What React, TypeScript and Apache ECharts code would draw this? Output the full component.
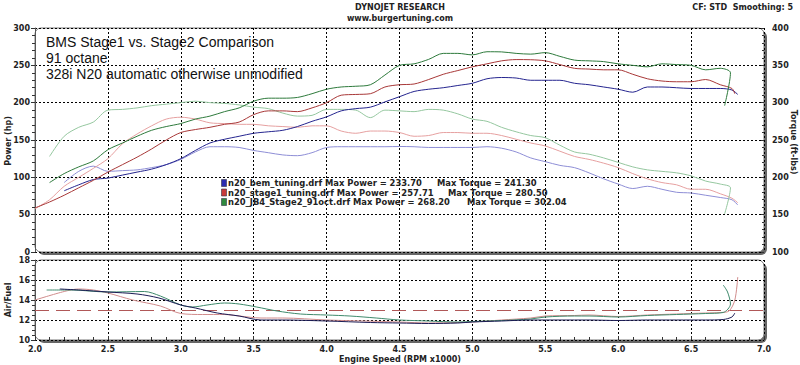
import React, { useEffect, useRef } from "react";
import * as echarts from "echarts";

type P = [number, number][];

// Power (hp), left axis
const powerBem: P = [[2.2,82],[2.3,90],[2.4,97],[2.5,99],[2.6,103],[2.7,107],[2.8,111],[2.9,117],[3.0,125],[3.1,136],[3.2,146],[3.3,151],[3.4,155],[3.5,159],[3.6,161],[3.7,163],[3.8,168],[3.9,175],[4.0,181],[4.1,189],[4.2,192],[4.3,194],[4.4,201],[4.5,208],[4.6,215],[4.7,218],[4.8,220],[4.9,223],[5.0,226],[5.1,232],[5.2,233.7],[5.3,233],[5.4,230],[5.5,230],[5.6,230],[5.7,226],[5.8,224],[5.9,221],[6.0,218],[6.1,214],[6.2,221],[6.3,221],[6.4,220],[6.5,219],[6.6,219],[6.7,219],[6.78,217],[6.82,211]];
const powerStage1: P = [[2.0,59],[2.1,67],[2.2,76],[2.3,86],[2.4,96],[2.5,107],[2.6,117],[2.7,127],[2.8,138],[2.9,150],[3.0,160],[3.1,164],[3.2,167],[3.3,171],[3.4,174],[3.5,184],[3.6,189],[3.7,189],[3.8,188],[3.9,193],[4.0,200],[4.1,210],[4.2,211],[4.3,212],[4.4,221],[4.5,224],[4.6,225],[4.7,231],[4.8,238],[4.9,243],[5.0,248],[5.1,252],[5.2,256],[5.3,257.7],[5.4,257.5],[5.5,256],[5.6,251],[5.7,246],[5.8,245],[5.9,244],[6.0,244],[6.1,238],[6.2,232],[6.3,229],[6.4,228],[6.5,228],[6.6,231],[6.7,224],[6.78,219],[6.8,212]];
const powerStage2: P = [[2.1,93],[2.2,105],[2.3,114],[2.4,122],[2.5,137],[2.6,146],[2.7,155],[2.8,163],[2.9,168],[3.0,172],[3.1,178],[3.2,182],[3.3,188],[3.4,193],[3.5,202],[3.6,206],[3.7,206],[3.8,207],[3.9,212],[4.0,218],[4.1,221],[4.2,222],[4.3,224],[4.4,237],[4.5,250],[4.6,252],[4.7,258],[4.8,266],[4.9,266],[5.0,264],[5.1,268.2],[5.2,268],[5.3,266],[5.4,265],[5.5,267],[5.6,262],[5.7,257],[5.8,256],[5.9,255],[6.0,252],[6.1,250],[6.2,248],[6.3,252],[6.4,251],[6.5,250],[6.6,244],[6.7,246],[6.77,240],[6.73,196]];

// Torque (ft-lbs), right axis
const torqueBem: P = [[2.2,193],[2.3,208],[2.4,215],[2.5,208],[2.6,209],[2.7,210],[2.8,213],[2.9,217],[3.0,224],[3.1,234],[3.2,241],[3.3,241],[3.4,240],[3.5,236],[3.6,233],[3.7,230],[3.8,229],[3.9,233],[4.0,240],[4.1,241],[4.2,241],[4.3,241],[4.4,241],[4.5,241.3],[4.6,241],[4.7,240],[4.8,240],[4.9,240],[5.0,240],[5.1,241],[5.2,239],[5.3,234],[5.4,226],[5.5,221],[5.6,216],[5.7,213],[5.8,206],[5.9,198],[6.0,191],[6.1,185],[6.2,188],[6.3,184],[6.4,180],[6.5,179],[6.6,176],[6.7,173],[6.78,170],[6.82,163]];
const torqueStage1: P = [[2.0,158],[2.1,170],[2.2,188],[2.3,200],[2.4,212],[2.5,225],[2.6,245],[2.7,258],[2.8,269],[2.9,278],[3.0,280.5],[3.1,278],[3.2,273],[3.3,272],[3.4,271],[3.5,271],[3.6,269],[3.7,268],[3.8,267],[3.9,269],[4.0,269],[4.1,262],[4.2,259],[4.3,262],[4.4,262],[4.5,260],[4.6,255],[4.7,256],[4.8,260],[4.9,260],[5.0,259],[5.1,259],[5.2,256],[5.3,251],[5.4,246],[5.5,242],[5.6,235],[5.7,228],[5.8,224],[5.9,219],[6.0,213],[6.1,205],[6.2,198],[6.3,193],[6.4,190],[6.5,184],[6.6,184],[6.7,178],[6.78,172],[6.82,166]];
const torqueStage2: P = [[2.1,228],[2.2,255],[2.3,267],[2.4,274],[2.5,290],[2.6,291],[2.7,293],[2.8,296],[2.9,298],[3.0,300],[3.1,302],[3.2,300],[3.3,299],[3.4,297],[3.5,294],[3.6,292],[3.7,286],[3.8,282],[3.9,283],[4.0,291],[4.1,291],[4.2,290],[4.3,280],[4.4,290],[4.5,289],[4.6,288],[4.7,291],[4.8,290],[4.9,285],[5.0,278],[5.1,275],[5.2,267],[5.3,261],[5.4,256],[5.5,253],[5.6,243],[5.7,234],[5.8,231],[5.9,226],[6.0,220],[6.1,214],[6.2,210],[6.3,208],[6.4,206],[6.5,202],[6.6,195],[6.7,191],[6.77,186],[6.73,151]];

// Air/Fuel ratio, lower panel
const afrBem: P = [[2.17,15.1],[2.3,15.0],[2.5,14.8],[2.7,14.6],[2.85,14.2],[3.0,13.5],[3.1,13.2],[3.25,12.7],[3.4,12.4],[3.55,12.0],[3.7,12.0],[4.0,11.9],[4.3,11.75],[4.5,11.7],[4.7,11.65],[4.9,11.7],[5.0,11.8],[5.2,11.9],[5.4,12.0],[5.6,12.0],[5.8,12.0],[6.0,11.95],[6.2,12.0],[6.4,12.0],[6.6,12.0],[6.72,12.05],[6.78,12.3],[6.8,12.7]];
const afrStage1: P = [[2.0,14.0],[2.2,14.85],[2.3,15.1],[2.4,15.0],[2.5,14.7],[2.67,14.0],[2.86,13.4],[3.0,12.65],[3.15,12.55],[3.3,12.55],[3.4,12.4],[3.55,12.2],[3.7,12.2],[4.0,12.0],[4.25,11.9],[4.5,11.8],[4.7,11.7],[4.9,11.75],[5.0,11.8],[5.2,12.0],[5.4,12.2],[5.5,12.4],[5.7,12.45],[5.8,12.5],[6.0,12.35],[6.2,12.5],[6.4,12.6],[6.6,12.7],[6.7,12.75],[6.76,12.9],[6.8,14.0],[6.82,16.3]];
const afrStage2: P = [[2.08,15.0],[2.25,15.0],[2.5,14.8],[2.75,14.85],[2.86,14.4],[3.0,13.5],[3.08,13.3],[3.18,13.5],[3.3,13.7],[3.4,13.6],[3.52,13.3],[3.66,12.9],[3.82,12.6],[4.0,12.5],[4.16,12.4],[4.34,12.2],[4.5,12.0],[4.7,11.9],[4.9,11.8],[5.0,11.85],[5.2,11.95],[5.4,12.1],[5.5,12.3],[5.7,12.4],[5.8,12.4],[6.0,12.3],[6.2,12.45],[6.4,12.55],[6.6,12.65],[6.72,12.75],[6.77,13.6],[6.75,14.8],[6.72,15.5]];
const afrTarget = 13;

const legendRows = [
  { text: "n20_bem_tuning.drf Max Power = 233.70", torque: "Max Torque = 241.30", color: "#2b2bb0", tx: 437 },
  { text: "n20_stage1_tuning.drf Max Power = 257.71", torque: "Max Torque = 280.50", color: "#c83a3a", tx: 448 },
  { text: "n20_JB4_Stage2_91oct.drf Max Power = 268.20", torque: "Max Torque = 302.04", color: "#2f8a3e", tx: 467 },
];
const noteLines = ["BMS Stage1 vs. Stage2 Comparison", "91 octane", "328i N20 automatic otherwise unmodified"];

const BOLD = "bold 8px 'DejaVu Sans'";
const LEGEND_FONT = "bold 8.4px 'DejaVu Sans'";
const GRID_LINE = { color: "#000", type: [2, 2] as number[], width: 1 };

export default function App() {
  const ref = useRef<HTMLDivElement>(null);
  useEffect(() => {
    const chart = echarts.init(ref.current!, undefined, { renderer: "svg" });
    const axisLabel = { fontFamily: "DejaVu Sans", fontWeight: "bold" as const, fontSize: 8, color: "#222" };
    const line = (name: string, data: P, color: string, xi: number, yi: number) => ({
      name, type: "line", data, xAxisIndex: xi, yAxisIndex: yi, showSymbol: false, symbol: "none",
      smooth: 0.3, lineStyle: { color, width: 1 }, z: 5,
    });
    const frames: any[] = [];
    const addFrame = (x: number, y: number, w: number, h: number) => {
      frames.push({ type: "rect", z: -20, shape: { x: x + 3, y: y + 3, width: w, height: h, r: 6 }, style: { fill: "#666" } });
      frames.push({ type: "rect", z: -19, shape: { x, y, width: w, height: h, r: 6 }, style: { fill: "#fff", stroke: "#777", lineWidth: 1 } });
    };
    addFrame(35, 28, 729, 224);
    addFrame(35, 260, 729, 80);
    const texts: any[] = [
      { type: "text", x: 400, y: 7, style: { text: "DYNOJET RESEARCH", font: BOLD, fill: "#222", textAlign: "center", textVerticalAlign: "middle" } },
      { type: "text", x: 400, y: 18, style: { text: "www.burgertuning.com", font: BOLD, fill: "#222", textAlign: "center", textVerticalAlign: "middle" } },
      { type: "text", x: 793, y: 7, style: { text: "CF: STD  Smoothing: 5", font: BOLD, fill: "#222", textAlign: "right", textVerticalAlign: "middle" } },
      { type: "text", x: 8, y: 141, rotation: Math.PI / 2, style: { text: "Power (hp)", font: BOLD, fill: "#222", textAlign: "center", textVerticalAlign: "middle" } },
      { type: "text", x: 793, y: 142, rotation: -Math.PI / 2, style: { text: "Torque (ft-lbs)", font: BOLD, fill: "#222", textAlign: "center", textVerticalAlign: "middle" } },
      { type: "text", x: 8, y: 300, rotation: Math.PI / 2, style: { text: "Air/Fuel", font: BOLD, fill: "#222", textAlign: "center", textVerticalAlign: "middle" } },
      { type: "text", x: 400, y: 359, style: { text: "Engine Speed (RPM x1000)", font: BOLD, fill: "#222", textAlign: "center", textVerticalAlign: "middle" } },
    ];
    noteLines.forEach((t, i) => {
      texts.push({ type: "text", x: 46, y: 42 + i * 16, z: 10, style: { text: t, font: "14px 'Liberation Sans'", fill: "#111", textAlign: "left", textVerticalAlign: "middle" } });
    });
    legendRows.forEach((r, i) => {
      const y = 183 + i * 9.5;
      texts.push({ type: "rect", z: 10, shape: { x: 221.5, y: y - 3.5, width: 5, height: 7 }, style: { fill: r.color, stroke: "#334", lineWidth: 0.6 } });
      texts.push({ type: "text", z: 10, x: 228, y, style: { text: r.text, font: LEGEND_FONT, fill: "#222", textAlign: "left", textVerticalAlign: "middle" } });
      texts.push({ type: "text", z: 10, x: r.tx, y, style: { text: r.torque, font: LEGEND_FONT, fill: "#222", textAlign: "left", textVerticalAlign: "middle" } });
    });

    chart.setOption({
      animation: false,
      backgroundColor: "#fff",
      grid: [
        { left: 35, right: 36, top: 28, height: 224 },
        { left: 35, right: 36, top: 260, height: 80 },
      ],
      xAxis: [
        { type: "value", gridIndex: 0, min: 2, max: 7, interval: 0.5, axisLine: { show: false }, axisTick: { show: false }, axisLabel: { show: false }, splitLine: { show: true, lineStyle: GRID_LINE } },
        { type: "value", gridIndex: 1, min: 2, max: 7, interval: 0.5, axisLine: { show: false },
          axisTick: { show: true, inside: true, length: 4, lineStyle: { color: "#333" } },
          minorTick: { show: true, splitNumber: 5, length: 3, lineStyle: { color: "#333" } },
          axisLabel: { ...axisLabel, margin: 5, formatter: (v: number) => v.toFixed(1) },
          splitLine: { show: true, lineStyle: GRID_LINE } },
      ],
      yAxis: [
        { type: "value", gridIndex: 0, min: 0, max: 300, interval: 50, position: "left", axisLine: { show: true, lineStyle: { color: "#555" } },
          axisTick: { show: true, length: 4, lineStyle: { color: "#333" } }, minorTick: { show: true, splitNumber: 5, length: 3, lineStyle: { color: "#333" } },
          axisLabel: { ...axisLabel, margin: 5 }, splitLine: { show: true, lineStyle: GRID_LINE } },
        { type: "value", gridIndex: 0, min: 100, max: 400, interval: 50, position: "right", axisLine: { show: false },
          axisTick: { show: true, inside: true, length: 3, lineStyle: { color: "#333" } }, minorTick: { show: true, splitNumber: 5, length: 2, lineStyle: { color: "#333" } },
          axisLabel: { ...axisLabel, margin: 8 }, splitLine: { show: false } },
        { type: "value", gridIndex: 1, min: 10, max: 18, interval: 2, position: "left", axisLine: { show: true, lineStyle: { color: "#555" } },
          axisTick: { show: true, length: 4, lineStyle: { color: "#333" } }, minorTick: { show: true, splitNumber: 4, length: 3, lineStyle: { color: "#333" } },
          axisLabel: { ...axisLabel, margin: 5 }, splitLine: { show: true, lineStyle: GRID_LINE } },
      ],
      series: [
        line("tqBem", torqueBem, "#8e8ed6", 0, 1),
        line("tqStage1", torqueStage1, "#e6a0a0", 0, 1),
        line("tqStage2", torqueStage2, "#95c79f", 0, 1),
        line("pwBem", powerBem, "#25258f", 0, 0),
        line("pwStage1", powerStage1, "#a83838", 0, 0),
        line("pwStage2", powerStage2, "#2e7a3c", 0, 0),
        {
          ...line("afrStage1", afrStage1, "#d08c8c", 1, 2),
          markLine: { silent: true, symbol: "none", label: { show: false }, data: [{ yAxis: afrTarget }], lineStyle: { color: "#b05858", type: [14, 7], width: 1 } },
        },
        line("afrStage2", afrStage2, "#3f8a6c", 1, 2),
        line("afrBem", afrBem, "#1c1c55", 1, 2),
      ],
      graphic: [...frames, ...texts],
    });
    return () => chart.dispose();
  }, []);
  return <div ref={ref} style={{ position: "absolute", left: 0, top: 0, width: 800, height: 365 }} />;
}
